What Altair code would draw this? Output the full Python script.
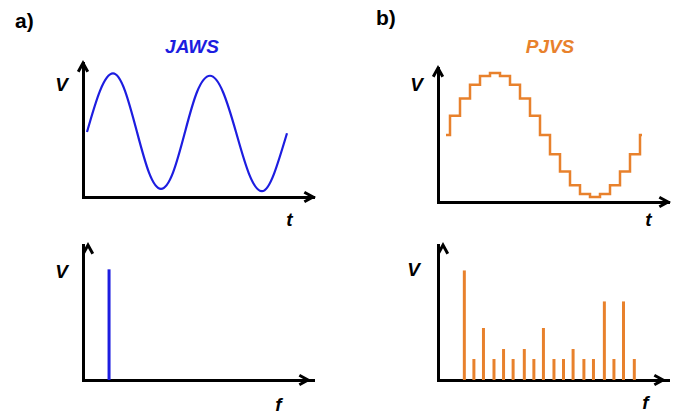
import altair as alt
import pandas as pd

FONT = "Liberation Sans"
BLUE = "#1d1de0"
ORANGE = "#e8812c"

# ---- data ----
# JAWS output: time (in periods) and normalised voltage
jaws_t = [0.04, 0.17, 0.30, 0.42, 0.54, 0.66, 0.78, 0.90, 1.02, 1.14, 1.27, 1.40, 1.53, 1.66, 1.79, 1.91, 2.04]
jaws_v = [0.0, 0.71, 1.01, 0.71, 0.0, -0.70, -0.98, -0.70, 0.0, 0.69, 0.97, 0.69, 0.0, -0.72, -1.02, -0.72, -0.02]

# PJVS staircase: step start times (in sample units) and step levels
pjvs_t = [0.8, 1.2, 2.2, 3.2, 4.2, 5.2, 6.2, 7.2, 8.2, 9.2, 10.2, 11.2, 12.2, 13.2, 14.2, 15.2,
          16.2, 17.2, 18.2, 19.2, 20.2, 20.4]
pjvs_v = [0.0, 0.31, 0.59, 0.81, 0.95, 1.0, 0.95, 0.81, 0.59, 0.31, 0.0, -0.31, -0.59, -0.81,
          -0.95, -1.0, -0.95, -0.81, -0.59, -0.31, 0.0, 0.0]

# spectra: frequency and amplitude
jaws_f = [2.2]
jaws_a = [1.0]
pjvs_f = [2.23, 3.23, 4.23, 5.33, 6.33, 7.33, 8.5, 9.5, 10.5, 11.6, 12.6, 13.6, 14.73, 15.73,
          16.87, 17.87, 18.87, 20.0]
pjvs_a = [0.99, 0.19, 0.47, 0.19, 0.28, 0.19, 0.28, 0.19, 0.47, 0.19, 0.19, 0.28, 0.19, 0.19,
          0.71, 0.19, 0.71, 0.19]

panel_labels = ["a)", "b)"]
panel_titles = ["JAWS", "PJVS"]

RIGHT_ARROW = "M-1,-0.55L0,0L-1,0.55"
UP_ARROW = "M-0.55,1L0,0L0.55,1"


def axes(xdom, ydom, xtitle, xt, ytitle, yt, yrange=None):
    xs = alt.Scale(domain=xdom, nice=False, zero=False)
    ys = alt.Scale(domain=ydom, nice=False, zero=False) if yrange is None else \
        alt.Scale(domain=ydom, nice=False, zero=False, range=yrange)
    common = dict(domain=True, domainColor="black", domainWidth=3, domainCap="square",
                  ticks=False, labels=False, grid=False, titleFont=FONT, titleFontSize=19,
                  titleFontStyle="italic", titleFontWeight="bold", titleColor="black",
                  titleAlign="center", titleBaseline="alphabetic", titleAngle=0)
    xe = alt.X("x:Q", scale=xs, axis=alt.Axis(orient="bottom", title=xtitle, titleX=xt[0], titleY=xt[1], **common))
    ye = alt.Y("y:Q", scale=ys, axis=alt.Axis(orient="left", title=ytitle, titleX=yt[0], titleY=yt[1], **common))
    return xe, ye


def arrows(xe, ye, xdom, ydom):
    df = pd.DataFrame({"x": [xdom[1], xdom[0]], "y": [ydom[0], ydom[1]],
                       "shape": [RIGHT_ARROW, UP_ARROW]})
    return alt.Chart(df).mark_point(filled=False, size=300, strokeWidth=3, color="black",
                                    opacity=1, strokeJoin="miter").encode(
        x=xe, y=ye, shape=alt.Shape("shape:N", scale=None))


def label(text, lx, ly, size=21, color="black", italic=False, align="left"):
    return alt.Chart(pd.DataFrame({"lab": [text]})).mark_text(
        align=align, baseline="alphabetic", font=FONT, fontSize=size, fontWeight="bold",
        fontStyle="italic" if italic else "normal",
        color=color).encode(text="lab:N", x=alt.value(lx), y=alt.value(ly))


# ---- a) top: JAWS sine ----
xd, yd = [0, 2.30], [-1.12, 1.19]
xe, ye = axes(xd, yd, "t", (206, 28), "V", (-22, 27))
a_top = alt.layer(
    alt.Chart(pd.DataFrame({"x": jaws_t, "y": jaws_v})).mark_line(
        interpolate="natural", color=BLUE, strokeWidth=2.2).encode(x=xe, y=ye),
    arrows(xe, ye, xd, yd),
    label(panel_labels[0], -68, -35),
    label(panel_titles[0], 109, -10, size=19, color=BLUE, italic=True, align="center"),
).properties(width=230, height=134)

# ---- b) top: PJVS staircase ----
xd, yd = [0, 23], [-1.08, 1.08]
xe, ye = axes(xd, yd, "t", (210, 23), "V", (-22, 27), yrange=[139, 5])
b_top = alt.layer(
    alt.Chart(pd.DataFrame({"x": pjvs_t, "y": pjvs_v})).mark_line(
        interpolate="step-after", color=ORANGE, strokeWidth=2.5).encode(x=xe, y=ye),
    arrows(xe, ye, xd, yd),
    label(panel_labels[1], -62, -38),
    label(panel_titles[1], 112, -10, size=19, color=ORANGE, italic=True, align="center"),
).properties(width=230, height=139)

# ---- a) bottom: JAWS spectrum ----
xd, yd = [0, 23], [0, 1.22]
xe, ye = axes(xd, yd, "f", (195, 30), "V", (-22, 32))
a_bot = alt.layer(
    alt.Chart(pd.DataFrame({"x": jaws_f, "y": jaws_a})).mark_bar(
        size=3, orient="vertical", color=BLUE).encode(x=xe, y=ye),
    arrows(xe, ye, xd, yd),
).properties(width=230, height=135)

# ---- b) bottom: PJVS spectrum ----
xe, ye = axes(xd, yd, "f", (207, 28), "V", (-25, 30))
b_bot = alt.layer(
    alt.Chart(pd.DataFrame({"x": pjvs_f, "y": pjvs_a})).mark_bar(
        size=3, orient="vertical", color=ORANGE).encode(x=xe, y=ye),
    arrows(xe, ye, xd, yd),
).properties(width=230, height=135)

chart = alt.concat(a_top, b_top, a_bot, b_bot, columns=2,
                   spacing=alt.RowColnumber(row=10, column=57)).properties(
    padding={"left": 15, "top": 8, "right": 0, "bottom": 0}
).configure(background="white").configure_view(stroke=None)

chart.save("out.html", embed_options={"renderer": "svg", "actions": False})
